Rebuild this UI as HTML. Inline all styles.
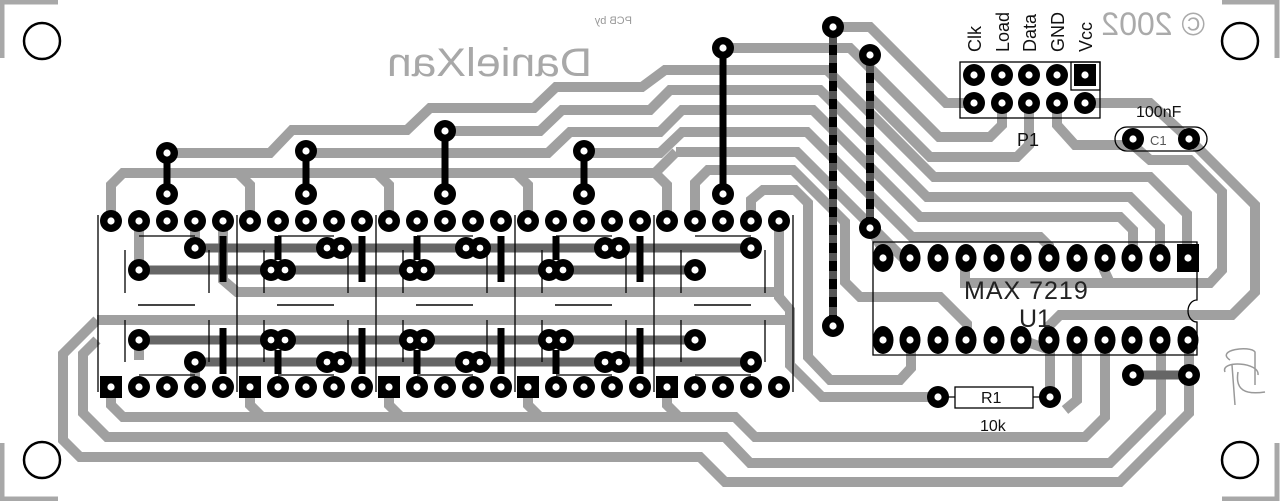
<!DOCTYPE html>
<html><head><meta charset="utf-8"><style>
html,body{margin:0;padding:0;background:#fff;width:1280px;height:501px;overflow:hidden}
svg{display:block}
</style></head><body>
<svg width="1280" height="501" viewBox="0 0 1280 501" xmlns="http://www.w3.org/2000/svg">
<defs>
<g id="p"><circle r="11" fill="#000"/><circle r="3.6" fill="#fff"/></g>
<g id="s"><rect x="-11" y="-11" width="22" height="22" fill="#000"/><circle r="3.6" fill="#fff"/></g>
<g id="d"><circle cx="-7" r="11" fill="#000"/><circle cx="7" r="11" fill="#000"/><circle cx="-7" r="3.4" fill="#fff"/><circle cx="7" r="3.4" fill="#fff"/></g>
<g id="e"><ellipse rx="10.5" ry="14" fill="#000"/><circle r="3.6" fill="#fff"/></g>
<g id="es"><rect x="-11" y="-14" width="22" height="28" fill="#000"/><circle r="3.6" fill="#fff"/></g>
</defs>

<g fill="none" stroke="#a8a8a8" stroke-width="5">
<polyline points="2,58 2,2 58,2"/>
<polyline points="1222,2 1277,2 1277,58"/>
<polyline points="2,443 2,499 58,499"/>
<polyline points="1222,499 1277,499 1277,443"/>
</g>
<g fill="none" stroke="#000" stroke-width="2.5">
<circle cx="42" cy="41" r="18"/><circle cx="1240" cy="41" r="18"/>
<circle cx="42" cy="460" r="18"/><circle cx="1240" cy="460" r="18"/>
</g>

<g fill="none" stroke="#a0a0a0" stroke-width="10" stroke-linejoin="miter">
<polyline points="111,221 111,185 123,173 655,173 676,152"/>
<polyline points="250,221 250,185 238,173"/><polyline points="389,221 389,185 377,173"/>
<polyline points="528,221 528,185 516,173"/><polyline points="667,221 667,185 655,173"/>
<polyline points="167,153 270,153 292,130 407,130 430,108 534,108 556,87 642,87 665,70 827,70 934,177 1150,177 1187,214 1187,257"/>
<polyline points="445,131 540,131 562,110 650,110 670,90 820,90 927,197 1130,197 1160,227 1160,257"/>
<polyline points="306,153 548,153 570,132 660,132 682,110 813,110 920,217 1120,217 1133,230 1133,257"/>
<polyline points="584,153 660,153 682,132 807,132 912,237 1040,237 1049,246 1049,257"/>
<polyline points="676,152 797,152 902,257 910,257"/>
<polyline points="695,221 695,183 708,170 793,170 845,222 845,282 860,297 940,297 967,324 967,340"/>
<polyline points="723,48 850,48 939,137 990,137 1002,125 1002,103"/>
<polyline points="833,27 870,27 946,103 974,103"/>
<polyline points="1029,103 1029,145 1017,157 930,157 870,97"/>
<polyline points="870,228 883,250"/>
<polyline points="751,221 751,200 763,190 795,190 808,203 808,357 830,380 900,380 911,368 911,340"/>
<polyline points="779,221 779,297 790,310 790,365 822,397 938,397"/>
<polyline points="1085,103 1150,103 1189,139"/>
<polyline points="1189,139 1255,205 1255,292 1232,315 1060,315 1049,326 1049,340"/>
<polyline points="1057,103 1057,125 1075,145 1133,145 1133,139"/>
<polyline points="1133,145 1150,160 1190,160 1222,192 1222,270 1210,283 965,283 965,257"/>
<polyline points="1110,283 1104,270 1104,257"/>
<polyline points="223,221 223,280 237,292 779,292"/>
<polyline points="139,221 139,270"/><polyline points="195,221 195,248"/>
<polyline points="97,320 790,320"/>
<polyline points="139,340 139,360"/><polyline points="195,362 195,387"/>
<polyline points="111,387 111,405 123,417 735,417 755,437 1085,437 1105,417 1105,340"/>
<polyline points="250,387 250,405 262,417"/><polyline points="389,387 389,405 401,417"/>
<polyline points="528,387 528,405 540,417"/><polyline points="667,387 667,405 679,417"/>
<polyline points="97,340 83,354 83,413 107,437 725,437 750,463 1110,463 1161,412 1161,340"/>
<polyline points="97,320 63,354 63,440 80,457 700,457 725,482 1120,482 1189,413 1189,340"/>
<polyline points="1077,340 1077,400 1065,410"/>
<polyline points="1050,397 1050,350 1022,340"/>
</g>

<g fill="none" stroke="#666" stroke-width="9">
<line x1="195" y1="248" x2="751" y2="248"/>
<line x1="139" y1="270" x2="695" y2="270"/>
<line x1="139" y1="340" x2="695" y2="340"/>
<line x1="195" y1="362" x2="751" y2="362"/>
<line x1="1133" y1="375" x2="1189" y2="375"/>
</g>
<g stroke="#000" stroke-width="7">
<line x1="223" y1="236" x2="223" y2="282"/><line x1="362" y1="236" x2="362" y2="282"/>
<line x1="501" y1="236" x2="501" y2="282"/><line x1="640" y1="236" x2="640" y2="282"/>
<line x1="278" y1="236" x2="278" y2="260"/><line x1="417" y1="236" x2="417" y2="260"/>
<line x1="556" y1="236" x2="556" y2="260"/>
<line x1="223" y1="328" x2="223" y2="374"/><line x1="362" y1="328" x2="362" y2="374"/>
<line x1="501" y1="328" x2="501" y2="374"/><line x1="640" y1="328" x2="640" y2="374"/>
<line x1="278" y1="350" x2="278" y2="374"/><line x1="417" y1="350" x2="417" y2="374"/>
<line x1="556" y1="350" x2="556" y2="374"/>
<line x1="167" y1="153" x2="167" y2="194"/><line x1="306" y1="151" x2="306" y2="194"/>
<line x1="445" y1="131" x2="445" y2="194"/><line x1="584" y1="151" x2="584" y2="194"/>
<line x1="723" y1="48" x2="723" y2="194"/>
</g>
<g stroke-width="8">
<line x1="833" y1="27" x2="833" y2="326" stroke="#555"/>
<line x1="833" y1="27" x2="833" y2="326" stroke="#000" stroke-dasharray="10,8"/>
<line x1="870" y1="55" x2="870" y2="228" stroke="#555"/>
<line x1="870" y1="55" x2="870" y2="228" stroke="#000" stroke-dasharray="10,8"/>
</g>

<g stroke="#000" stroke-width="1.3" fill="none">
<line x1="98" y1="215" x2="98" y2="392"/><line x1="237" y1="215" x2="237" y2="392"/>
<line x1="376" y1="215" x2="376" y2="392"/><line x1="515" y1="215" x2="515" y2="392"/>
<line x1="654" y1="215" x2="654" y2="392"/><line x1="793" y1="215" x2="793" y2="392"/>
<line x1="125" y1="250" x2="125" y2="293"/><line x1="125" y1="320" x2="125" y2="362"/>
<line x1="264" y1="250" x2="264" y2="293"/><line x1="264" y1="320" x2="264" y2="362"/>
<line x1="403" y1="250" x2="403" y2="293"/><line x1="403" y1="320" x2="403" y2="362"/>
<line x1="542" y1="250" x2="542" y2="293"/><line x1="542" y1="320" x2="542" y2="362"/>
<line x1="681" y1="250" x2="681" y2="293"/><line x1="681" y1="320" x2="681" y2="362"/>
<line x1="209" y1="250" x2="209" y2="293"/><line x1="209" y1="320" x2="209" y2="362"/>
<line x1="348" y1="250" x2="348" y2="293"/><line x1="348" y1="320" x2="348" y2="362"/>
<line x1="487" y1="250" x2="487" y2="293"/><line x1="487" y1="320" x2="487" y2="362"/>
<line x1="626" y1="250" x2="626" y2="293"/><line x1="626" y1="320" x2="626" y2="362"/>
<line x1="765" y1="250" x2="765" y2="293"/><line x1="765" y1="320" x2="765" y2="362"/>
<line x1="139" y1="236" x2="195" y2="236"/><line x1="278" y1="236" x2="334" y2="236"/>
<line x1="417" y1="236" x2="473" y2="236"/><line x1="556" y1="236" x2="612" y2="236"/><line x1="695" y1="236" x2="751" y2="236"/>
<line x1="139" y1="375" x2="195" y2="375"/><line x1="278" y1="375" x2="334" y2="375"/>
<line x1="417" y1="375" x2="473" y2="375"/><line x1="556" y1="375" x2="612" y2="375"/><line x1="695" y1="375" x2="751" y2="375"/>
<rect x="960" y="62" width="140" height="56"/>
<rect x="1071" y="62" width="29" height="28"/>
<path d="M873,242 L873,355 L1197,355 L1197,322 A9,11 0 0 1 1197,300 L1197,242 Z"/>
<rect x="1115" y="127" width="92" height="24" rx="12"/>
<rect x="955" y="387" width="78" height="21"/>
<line x1="938" y1="397" x2="955" y2="397"/><line x1="1033" y1="397" x2="1050" y2="397"/>
</g>
<g stroke="#444" stroke-width="2">
<line x1="138" y1="305" x2="195" y2="305"/><line x1="277" y1="305" x2="334" y2="305"/>
<line x1="416" y1="305" x2="473" y2="305"/><line x1="555" y1="305" x2="612" y2="305"/><line x1="694" y1="305" x2="751" y2="305"/>
</g>

<g>
<use href="#p" x="111" y="221"/><use href="#p" x="139" y="221"/><use href="#p" x="167" y="221"/><use href="#p" x="195" y="221"/><use href="#p" x="223" y="221"/>
<use href="#p" x="250" y="221"/><use href="#p" x="278" y="221"/><use href="#p" x="306" y="221"/><use href="#p" x="334" y="221"/><use href="#p" x="362" y="221"/>
<use href="#p" x="389" y="221"/><use href="#p" x="417" y="221"/><use href="#p" x="445" y="221"/><use href="#p" x="473" y="221"/><use href="#p" x="501" y="221"/>
<use href="#p" x="528" y="221"/><use href="#p" x="556" y="221"/><use href="#p" x="584" y="221"/><use href="#p" x="612" y="221"/><use href="#p" x="640" y="221"/>
<use href="#p" x="667" y="221"/><use href="#p" x="695" y="221"/><use href="#p" x="723" y="221"/><use href="#p" x="751" y="221"/><use href="#p" x="779" y="221"/>
<use href="#s" x="111" y="387"/><use href="#p" x="139" y="387"/><use href="#p" x="167" y="387"/><use href="#p" x="195" y="387"/><use href="#p" x="223" y="387"/>
<use href="#s" x="250" y="387"/><use href="#p" x="278" y="387"/><use href="#p" x="306" y="387"/><use href="#p" x="334" y="387"/><use href="#p" x="362" y="387"/>
<use href="#s" x="389" y="387"/><use href="#p" x="417" y="387"/><use href="#p" x="445" y="387"/><use href="#p" x="473" y="387"/><use href="#p" x="501" y="387"/>
<use href="#s" x="528" y="387"/><use href="#p" x="556" y="387"/><use href="#p" x="584" y="387"/><use href="#p" x="612" y="387"/><use href="#p" x="640" y="387"/>
<use href="#s" x="667" y="387"/><use href="#p" x="695" y="387"/><use href="#p" x="723" y="387"/><use href="#p" x="751" y="387"/><use href="#p" x="779" y="387"/>
<use href="#p" x="195" y="248"/><use href="#d" x="334" y="248"/><use href="#d" x="473" y="248"/><use href="#d" x="612" y="248"/><use href="#p" x="751" y="248"/>
<use href="#p" x="139" y="270"/><use href="#d" x="278" y="270"/><use href="#d" x="417" y="270"/><use href="#d" x="556" y="270"/><use href="#p" x="695" y="270"/>
<use href="#p" x="139" y="340"/><use href="#d" x="278" y="340"/><use href="#d" x="417" y="340"/><use href="#d" x="556" y="340"/><use href="#p" x="695" y="340"/>
<use href="#p" x="195" y="362"/><use href="#d" x="334" y="362"/><use href="#d" x="473" y="362"/><use href="#d" x="612" y="362"/><use href="#p" x="751" y="362"/>
<use href="#p" x="167" y="153"/><use href="#p" x="167" y="194"/><use href="#p" x="306" y="151"/><use href="#p" x="306" y="194"/>
<use href="#p" x="445" y="131"/><use href="#p" x="445" y="194"/><use href="#p" x="584" y="151"/><use href="#p" x="584" y="194"/>
<use href="#p" x="723" y="48"/><use href="#p" x="723" y="194"/>
<use href="#p" x="833" y="27"/><use href="#p" x="833" y="326"/><use href="#p" x="870" y="55"/><use href="#p" x="870" y="228"/>
<use href="#e" x="883" y="258"/><use href="#e" x="910" y="258"/><use href="#e" x="938" y="258"/><use href="#e" x="966" y="258"/><use href="#e" x="994" y="258"/><use href="#e" x="1021" y="258"/>
<use href="#e" x="1049" y="258"/><use href="#e" x="1077" y="258"/><use href="#e" x="1105" y="258"/><use href="#e" x="1132" y="258"/><use href="#e" x="1160" y="258"/><use href="#es" x="1188" y="258"/>
<use href="#e" x="883" y="340"/><use href="#e" x="910" y="340"/><use href="#e" x="938" y="340"/><use href="#e" x="966" y="340"/><use href="#e" x="994" y="340"/><use href="#e" x="1021" y="340"/>
<use href="#e" x="1049" y="340"/><use href="#e" x="1077" y="340"/><use href="#e" x="1105" y="340"/><use href="#e" x="1132" y="340"/><use href="#e" x="1160" y="340"/><use href="#e" x="1188" y="340"/>
<use href="#p" x="974" y="75"/><use href="#p" x="1002" y="75"/><use href="#p" x="1029" y="75"/><use href="#p" x="1057" y="75"/><use href="#s" x="1085" y="75"/>
<use href="#p" x="974" y="103"/><use href="#p" x="1002" y="103"/><use href="#p" x="1029" y="103"/><use href="#p" x="1057" y="103"/><use href="#p" x="1085" y="103"/>
<use href="#p" x="1133" y="139"/><use href="#p" x="1189" y="139"/>
<use href="#p" x="938" y="397"/><use href="#p" x="1050" y="397"/>
<use href="#p" x="1133" y="375"/><use href="#p" x="1189" y="375"/>
</g>

<g font-family="'Liberation Sans', sans-serif">
<text transform="translate(592,76) scale(-1,1)" font-size="40" fill="#a8a8a8" textLength="205" lengthAdjust="spacingAndGlyphs">DanielXan</text>
<text transform="translate(632,24) scale(-1,1)" font-size="11" fill="#999">PCB by</text>
<text transform="translate(1205,35) scale(-1,1)" font-size="32" fill="#aaa">© 2002</text>
<g font-size="18" fill="#111">
<text transform="translate(981,52) rotate(-90)">Clk</text>
<text transform="translate(1009,52) rotate(-90)">Load</text>
<text transform="translate(1036,52) rotate(-90)">Data</text>
<text transform="translate(1064,52) rotate(-90)">GND</text>
<text transform="translate(1092,52) rotate(-90)">Vcc</text>
</g>
<text x="1017" y="146" font-size="18" fill="#111">P1</text>
<text x="1136" y="117" font-size="16" fill="#111">100nF</text>
<text x="1150" y="145" font-size="13" fill="#555">C1</text>
<text x="964" y="299" font-size="25" fill="#222" letter-spacing="1">MAX 7219</text>
<text x="1019" y="327" font-size="25" fill="#222">U1</text>
<text x="981" y="403" font-size="16" fill="#111">R1</text>
<text x="980" y="431" font-size="16" fill="#111">10k</text>
</g>
<g fill="none" stroke="#999" stroke-width="1.5">
<path d="M1230,360 C1215,350 1250,345 1255,352 L1255,385 M1225,372 C1220,360 1260,362 1258,375 M1232,365 L1235,405 M1238,372 C1235,390 1245,395 1265,392"/>
</g>
</svg>
</body></html>
